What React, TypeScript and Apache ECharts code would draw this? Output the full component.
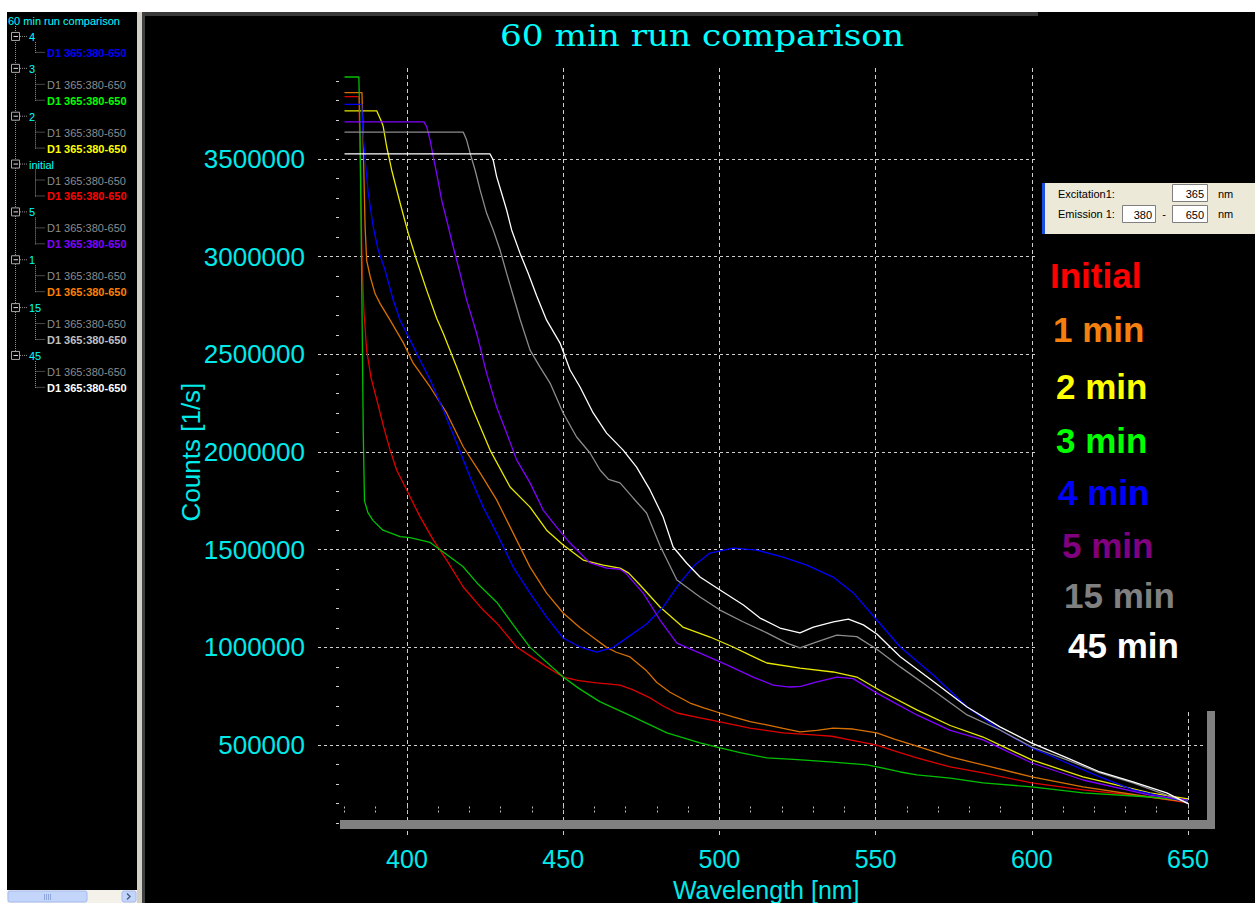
import React, { useEffect, useRef } from 'react';
import * as echarts from 'echarts';

const W = 1255;
const H = 903;
const FONT = '"Liberation Sans", Arial, sans-serif';
const CYAN = '#00eaea';

// ---------- data (wavelength in nm, counts in 1/s) ----------
const wlInitial = [380, 384.6, 385.1, 385.6, 386.2, 387.1, 388.5, 390.3, 392.5, 394.6, 396.7, 400.4, 404.2, 408.4, 412.7, 418, 424.4, 428.7, 435.1, 440, 444.7, 450, 455, 460.7, 465, 468.2, 472.4, 477.8, 482, 486.4, 493.8, 500.2, 509.8, 520.4, 531.2, 536, 541.8, 550.4, 556, 563.2, 573.9, 584.4, 600, 616.4, 637.8, 650];
const cInitial = [3820000, 3820000, 3450000, 3000000, 2720000, 2520000, 2380000, 2270000, 2130000, 2010000, 1908000, 1790000, 1668000, 1550000, 1447000, 1309000, 1191000, 1125000, 1002000, 950000, 900000, 848000, 830000, 818000, 812000, 807000, 782000, 741000, 700000, 664000, 639000, 618000, 587000, 562000, 551000, 545000, 526000, 500000, 470000, 434000, 388000, 357000, 306000, 270000, 234000, 204000];

const wl1min = [380, 385.6, 386.1, 386.6, 387.1, 388.2, 389.8, 391.4, 394.6, 398.8, 402, 407.4, 412.7, 418, 423.4, 428.7, 434, 439.4, 444.7, 450, 455.4, 460.7, 463.9, 467, 471.4, 476.7, 480, 484.2, 490.6, 495, 500.2, 504.4, 509.8, 515.2, 520.4, 525.8, 531.2, 536.4, 542.8, 550.4, 556, 563.2, 573.9, 584.4, 600, 616.4, 637.8, 650];
const c1min = [3840000, 3840000, 3500000, 3150000, 2980000, 2900000, 2810000, 2760000, 2675000, 2560000, 2455000, 2333000, 2200000, 2027000, 1893000, 1755000, 1585000, 1411000, 1278000, 1176000, 1100000, 1038000, 1000000, 975000, 951000, 880000, 820000, 770000, 715000, 690000, 664000, 644000, 620000, 603000, 585000, 567000, 575000, 587000, 582000, 562000, 530000, 495000, 439000, 398000, 337000, 286000, 234000, 208000];

const wl2min = [380, 390.3, 391.9, 392.4, 393.5, 395.1, 397.8, 400.4, 403.1, 406.3, 409.5, 411.6, 415.9, 421.2, 426.6, 433, 439.4, 444.7, 450, 456.4, 462.8, 468.2, 471, 474.6, 481, 488.3, 497, 504.4, 509.8, 515.2, 525.8, 536.4, 544, 552.4, 563.2, 573.9, 584.4, 600, 616.4, 637.8, 650];
const c2min = [3747000, 3747000, 3690000, 3666000, 3563000, 3444000, 3275000, 3120000, 2982000, 2829000, 2685000, 2608000, 2435000, 2215000, 2010000, 1821000, 1718000, 1600000, 1524000, 1447000, 1421000, 1406000, 1380000, 1319000, 1207000, 1104000, 1053000, 1002000, 960000, 920000, 894000, 874000, 848000, 770000, 680000, 600000, 541000, 424000, 337000, 255000, 224000];

const wl3min = [380, 384.6, 385.0, 385.5, 386.0, 386.4, 387.5, 389.1, 392.3, 397.8, 401, 407.4, 411.5, 417.9, 422.4, 428.8, 435.2, 439.4, 450, 455, 461.7, 472.4, 483.2, 493.8, 500.2, 507, 515.2, 525, 536.4, 547.3, 552.4, 557.9, 563.2, 573.9, 584.4, 600, 616.4, 637.8, 650];
const c3min = [3920000, 3920000, 3600000, 2900000, 2100000, 1750000, 1690000, 1650000, 1600000, 1567000, 1562000, 1537000, 1490000, 1414000, 1330000, 1230000, 1090000, 1000000, 848000, 790000, 722000, 644000, 562000, 511000, 485000, 460000, 434000, 425000, 413000, 398000, 382000, 362000, 347000, 331000, 306000, 286000, 255000, 234000, 218000];

const wl4min = [380, 385.5, 386, 386.6, 387.6, 389.2, 390.8, 393, 395.6, 397.8, 401, 404.2, 407.4, 411.6, 415.9, 420.2, 424.4, 428.7, 434, 439.4, 444.7, 450, 455.4, 460.7, 466, 471.4, 476.7, 482, 487.4, 492, 497, 504.4, 512, 520.4, 528, 536.4, 542.8, 550.4, 557.9, 568.4, 579.3, 589.8, 600, 611.3, 621.8, 632.4, 650];
const c4min = [3780000, 3780000, 3614000, 3495000, 3325000, 3152000, 3034000, 2930000, 2778000, 2675000, 2573000, 2470000, 2370000, 2215000, 2046000, 1872000, 1718000, 1585000, 1411000, 1278000, 1155000, 1048000, 1002000, 976000, 1000000, 1060000, 1120000, 1207000, 1330000, 1420000, 1483000, 1508000, 1498000, 1462000, 1421000, 1360000, 1280000, 1140000, 1002000, 860000, 695000, 577000, 485000, 408000, 337000, 270000, 208000];

const wl5min = [380, 405.4, 406.3, 407.4, 408.4, 409.5, 411.1, 412.7, 414.8, 417, 419.1, 422.3, 425.5, 428.7, 431.9, 435.1, 439.4, 443.6, 447.9, 452.2, 458.6, 463.9, 468.2, 470, 475.6, 481, 486.4, 493.8, 502.4, 510.8, 517.2, 522.6, 526, 531.2, 537.6, 542.8, 550.4, 563.2, 573.9, 584.4, 600, 616.4, 637.8, 650];
const c5min = [3690000, 3690000, 3666000, 3597000, 3512000, 3427000, 3290000, 3188000, 3051000, 2915000, 2778000, 2608000, 2403000, 2230000, 2097000, 1960000, 1842000, 1703000, 1616000, 1534000, 1432000, 1406000, 1400000, 1380000, 1278000, 1140000, 1022000, 971000, 910000, 848000, 807000, 797000, 800000, 823000, 848000, 840000, 766000, 654000, 575000, 526000, 408000, 321000, 244000, 218000];

const wl15min = [380, 418, 419.1, 420.2, 421.8, 423.4, 425.5, 427.6, 429.8, 431.9, 434, 436.2, 439.4, 442.6, 445.8, 450, 454.3, 458.6, 461.8, 464.5, 468.2, 472.4, 476.7, 481, 486.4, 493.8, 500.2, 507.7, 515.2, 521.6, 525.8, 531.2, 537.6, 544, 550.4, 557.9, 568.4, 579.3, 589.8, 600, 611.3, 621.8, 632.4, 650];
const c15min = [3638000, 3638000, 3597000, 3530000, 3444000, 3342000, 3222000, 3137000, 3034000, 2915000, 2800000, 2680000, 2522000, 2435000, 2353000, 2200000, 2077000, 1995000, 1908000, 1860000, 1842000, 1765000, 1688000, 1520000, 1345000, 1258000, 1191000, 1130000, 1074000, 1022000, 997000, 1028000, 1063000, 1055000, 990000, 900000, 780000, 654000, 577000, 490000, 424000, 357000, 306000, 204000];

const wl45min = [380, 426.6, 427.6, 428.7, 430.3, 431.9, 433.5, 436.2, 438.8, 441.5, 444.7, 449, 452.2, 455.4, 459.6, 463.9, 469.2, 473.5, 477.8, 482, 485.2, 489.5, 493.8, 500.2, 507.7, 513, 519.4, 525.8, 530.1, 536.5, 541.3, 546.1, 550.4, 557.9, 568.5, 579.3, 589.8, 600, 611.3, 621.8, 632.4, 643.2, 650];
const c45min = [3526000, 3526000, 3495000, 3410000, 3325000, 3239000, 3137000, 3017000, 2915000, 2800000, 2675000, 2558000, 2420000, 2333000, 2200000, 2097000, 2010000, 1923000, 1806000, 1667000, 1514000, 1432000, 1360000, 1294000, 1217000, 1150000, 1099000, 1074000, 1104000, 1130000, 1145000, 1115000, 1068000, 952000, 825000, 695000, 593000, 510000, 434000, 362000, 311000, 255000, 200000];

const seriesNames = ['Initial', '1 min', '2 min', '3 min', '4 min', '5 min', '15 min', '45 min'];
const seriesWl = [wlInitial, wl1min, wl2min, wl3min, wl4min, wl5min, wl15min, wl45min];
const seriesCounts = [cInitial, c1min, c2min, c3min, c4min, c5min, c15min, c45min];
const lineColors = ['#e00000', '#d87000', '#e8e800', '#00c000', '#0000ff', '#8000ff', '#8c8c8c', '#ffffff'];
const legendColors = ['#ff0000', '#f58010', '#ffff00', '#00ff00', '#0000ff', '#800080', '#808080', '#ffffff'];

// axis settings
const xMin = 380;
const xMax = 650;
const yMax = 4000000;
const yStep = 500000;

// tree panel (sample list)
const treeTitle = '60 min run comparison';
const treeGroups = ['4', '3', '2', 'initial', '5', '1', '15', '45'];
const treeChildColors = [
  ['#0000ff'],
  ['#00ff00'],
  ['#ffff00'],
  ['#ff0000'],
  ['#8000ff'],
  ['#ff8000'],
  ['#c0c0c0'],
  ['#ffffff'],
];
const treeChildText = 'D1 365:380-650';

function buildGraphics() {
  const els: any[] = [];
  // page chrome
  els.push({ type: 'rect', z: 10, shape: { x: 0, y: 0, width: W, height: 12 }, style: { fill: '#ffffff' } });
  els.push({ type: 'rect', z: 10, shape: { x: 0, y: 0, width: 7, height: H }, style: { fill: '#ffffff' } });
  els.push({ type: 'rect', z: 10, shape: { x: 137, y: 12, width: 5, height: H - 12 }, style: { fill: '#d4d0c8' } });
  els.push({ type: 'rect', z: 10, shape: { x: 142, y: 12, width: 3, height: H - 12 }, style: { fill: '#404040' } });
  els.push({ type: 'rect', z: 10, shape: { x: 145, y: 12, width: 893, height: 4 }, style: { fill: '#3a3a3a' } });
  // cover of the legend area
  els.push({ type: 'rect', z: 1, shape: { x: 1038, y: 16, width: W - 1038, height: 696 }, style: { fill: '#000000' } });

  // scrollbar
  els.push({ type: 'rect', z: 10, shape: { x: 7, y: 890, width: 130, height: 13 }, style: { fill: '#f3f1ea' } });
  els.push({ type: 'rect', z: 11, shape: { x: 8, y: 891, width: 79, height: 11, r: 2 }, style: { fill: '#c4d5fc', stroke: '#a4bbee', lineWidth: 1 } });
  for (let i = 0; i < 4; i++) {
    els.push({ type: 'line', z: 12, shape: { x1: 44 + i * 2 + 0.5, y1: 894, x2: 44 + i * 2 + 0.5, y2: 900 }, style: { stroke: '#8ea6da', lineWidth: 1 } });
  }
  els.push({ type: 'rect', z: 11, shape: { x: 122, y: 891, width: 14, height: 11, r: 2 }, style: { fill: '#c4d5fc', stroke: '#a4bbee', lineWidth: 1 } });
  els.push({ type: 'polyline', z: 12, shape: { points: [[127, 893.5], [130, 896.5], [127, 899.5]] }, style: { stroke: '#4d6185', lineWidth: 1.5, fill: 'none' } });

  // tree
  const rowY = (i: number) => 21 + i * 15.95;
  els.push({ type: 'text', z: 10, x: 8, y: rowY(0), style: { text: treeTitle, fill: '#00ffff', fontSize: 11, fontFamily: FONT, align: 'left', verticalAlign: 'middle' } });
  let row = 1;
  let lastGroupY = 0;
  treeGroups.forEach((g, gi) => {
    const gy = rowY(row);
    lastGroupY = gy;
    els.push({ type: 'rect', z: 11, shape: { x: 11.5, y: gy - 4.5, width: 8, height: 8 }, style: { fill: '#000', stroke: '#a8a8a8', lineWidth: 1 } });
    els.push({ type: 'line', z: 12, shape: { x1: 13.5, y1: gy - 0.5, x2: 18, y2: gy - 0.5 }, style: { stroke: '#e0e0e0', lineWidth: 1 } });
    els.push({ type: 'line', z: 10, shape: { x1: 20, y1: gy - 0.5, x2: 27, y2: gy - 0.5 }, style: { stroke: '#909090', lineWidth: 1, lineDash: [1, 1] } });
    els.push({ type: 'text', z: 10, x: 29, y: gy, style: { text: g, fill: '#00ffff', fontSize: 11, fontFamily: FONT, align: 'left', verticalAlign: 'middle' } });
    const children: { color: string; bold: boolean }[] = [];
    if (gi > 0) children.push({ color: '#8c8c8c', bold: false });
    treeChildColors[gi].forEach((c) => children.push({ color: c, bold: true }));
    row++;
    let lastChildY = gy;
    children.forEach((ch) => {
      const cy = rowY(row);
      lastChildY = cy;
      els.push({ type: 'line', z: 10, shape: { x1: 35.5, y1: cy - 0.5, x2: 45, y2: cy - 0.5 }, style: { stroke: '#909090', lineWidth: 1, lineDash: [1, 1] } });
      els.push({ type: 'text', z: 10, x: 47, y: cy, style: { text: treeChildText, fill: ch.color, fontSize: 11, fontWeight: ch.bold ? 'bold' : 'normal', fontFamily: FONT, align: 'left', verticalAlign: 'middle' } });
      row++;
    });
    els.push({ type: 'line', z: 10, shape: { x1: 35.5, y1: gy + 5, x2: 35.5, y2: lastChildY }, style: { stroke: '#909090', lineWidth: 1, lineDash: [1, 1] } });
  });
  els.push({ type: 'line', z: 10, shape: { x1: 15.5, y1: 26, x2: 15.5, y2: lastGroupY - 5 }, style: { stroke: '#909090', lineWidth: 1, lineDash: [1, 1] } });

  // title
  els.push({ type: 'text', z: 10, x: 702, y: 36, scaleX: 1.18, style: { text: '60 min run comparison', fill: '#00ffff', fontSize: 29, fontFamily: '"DejaVu Serif", "Liberation Serif", serif', align: 'center', verticalAlign: 'middle' } });

  // 3D floor / wall bars
  els.push({ type: 'rect', z: 10, shape: { x: 340, y: 820, width: 875, height: 9 }, style: { fill: '#808080' } });
  els.push({ type: 'rect', z: 10, shape: { x: 1207, y: 711, width: 8, height: 118 }, style: { fill: '#808080' } });

  // excitation / emission box
  els.push({ type: 'rect', z: 10, shape: { x: 1042, y: 183, width: W - 1042, height: 51 }, style: { fill: '#ece9d8' } });
  els.push({ type: 'rect', z: 11, shape: { x: 1042, y: 183, width: 3, height: 51 }, style: { fill: '#1a4fe0' } });
  const small = { fontSize: 11, fontFamily: FONT, fill: '#000000', verticalAlign: 'middle' };
  els.push({ type: 'text', z: 12, x: 1058, y: 194, style: { ...small, text: 'Excitation1:', align: 'left' } });
  els.push({ type: 'text', z: 12, x: 1058, y: 214, style: { ...small, text: 'Emission 1:', align: 'left' } });
  const boxes = [
    { x: 1172, y: 184, w: 35, t: '365' },
    { x: 1122, y: 205, w: 33, t: '380' },
    { x: 1172, y: 205, w: 35, t: '650' },
  ];
  boxes.forEach((b) => {
    els.push({ type: 'rect', z: 11, shape: { x: b.x + 0.5, y: b.y + 0.5, width: b.w, height: 17 }, style: { fill: '#ffffff', stroke: '#7f7f7f', lineWidth: 1 } });
    els.push({ type: 'text', z: 12, x: b.x + b.w - 3, y: b.y + 9.5, style: { ...small, text: b.t, align: 'right' } });
  });
  els.push({ type: 'text', z: 12, x: 1164, y: 214, style: { ...small, text: '-', align: 'center' } });
  els.push({ type: 'text', z: 12, x: 1218, y: 194, style: { ...small, text: 'nm', align: 'left' } });
  els.push({ type: 'text', z: 12, x: 1218, y: 214, style: { ...small, text: 'nm', align: 'left' } });

  // legend texts
  const legendX = [1050, 1053, 1056, 1056, 1058, 1062, 1064, 1068];
  const legendY = [275, 329, 386, 440, 492, 545, 595, 645];
  seriesNames.forEach((n, i) => {
    els.push({ type: 'text', z: 12, x: legendX[i], y: legendY[i], style: { text: n, fill: legendColors[i], fontSize: 35, fontWeight: 'bold', fontFamily: FONT, align: 'left', verticalAlign: 'middle' } });
  });
  return els;
}

function buildOption(): any {
  const pxPerM = 195.33;
  const yZero = 842.7;
  const yTop = yZero - (yMax / 1e6) * pxPerM;
  const pxPerNm = 3.124;
  const x380 = 344.5;
  const x650 = x380 + (xMax - xMin) * pxPerNm;
  const x350 = x380 - 30 * pxPerNm;
  const hidden = { show: false };

  const series = seriesNames.map((name, i) => ({
    name,
    type: 'line',
    xAxisIndex: 0,
    yAxisIndex: 0,
    showSymbol: false,
    symbol: 'none',
    data: seriesWl[i].slice(0, Math.min(seriesWl[i].length, seriesCounts[i].length)).map((w, k) => [w, seriesCounts[i][k]]),
    lineStyle: { color: lineColors[i], width: 1.3 },
    itemStyle: { color: lineColors[i] },
    z: 2,
  }));

  return {
    animation: false,
    backgroundColor: '#000000',
    grid: [
      { left: x380, top: yTop, width: x650 - x380, height: yZero - yTop },
      { left: 318, top: yTop, width: 1205 - 318, height: yZero - yTop },
      { left: x350, top: 68, width: x650 - x350, height: 837 - 68 },
      { left: x380, top: 700, width: x650 - x380, height: 113 },
      { left: 336, top: yZero - 3.9 * pxPerM, width: 100, height: 3.8 * pxPerM },
    ],
    xAxis: [
      { gridIndex: 0, type: 'value', min: xMin, max: xMax, ...hidden },
      { gridIndex: 1, type: 'value', min: 0, max: 1, ...hidden },
      {
        gridIndex: 2, type: 'value', min: 350, max: xMax, interval: 50,
        axisLine: { show: false }, axisTick: { show: false },
        axisLabel: { show: true, color: CYAN, fontSize: 25, lineHeight: 20, fontFamily: FONT, margin: 12, showMinLabel: false, formatter: (v: number) => String(v) },
        splitLine: { show: true, showMinLine: false, showMaxLine: true, lineStyle: { color: '#cfcfcf', width: 1, type: [4, 3] } },
      },
      {
        gridIndex: 3, type: 'value', min: xMin, max: xMax, interval: 10,
        axisLine: { show: false },
        axisTick: { show: true, inside: true, length: 8, lineStyle: { color: '#bdbdbd', width: 1, type: [2, 2] } },
        axisLabel: { show: false }, splitLine: { show: false },
        name: 'Wavelength [nm]', nameLocation: 'middle', nameGap: 66, nameMoveOverlap: false,
        nameTextStyle: { color: CYAN, fontSize: 25, lineHeight: 22, fontFamily: FONT },
      },
      { gridIndex: 4, type: 'value', min: 0, max: 1, ...hidden },
    ],
    yAxis: [
      { gridIndex: 0, type: 'value', min: 0, max: yMax, ...hidden },
      {
        gridIndex: 1, type: 'value', min: 0, max: yMax, interval: yStep,
        axisLine: { show: false }, axisTick: { show: false },
        axisLabel: { show: true, color: CYAN, fontSize: 26, fontFamily: FONT, margin: 13, showMinLabel: false, showMaxLabel: false, formatter: (v: number) => String(v) },
        splitLine: { show: true, showMinLine: false, showMaxLine: false, lineStyle: { color: '#cfcfcf', width: 1, type: [3, 3] } },
        name: 'Counts [1/s]', nameLocation: 'middle', nameGap: 114, nameRotate: 90, nameMoveOverlap: false,
        nameTextStyle: { color: CYAN, fontSize: 26, fontFamily: FONT },
      },
      { gridIndex: 2, type: 'value', min: 0, max: 1, ...hidden },
      { gridIndex: 3, type: 'value', min: 0, max: 1, ...hidden },
      {
        gridIndex: 4, type: 'value', min: 100000, max: 3900000, interval: 100000,
        axisLine: { show: false },
        axisTick: { show: true, inside: true, length: 3, lineStyle: { color: '#d0d0d0', width: 1 } },
        axisLabel: { show: false }, splitLine: { show: false },
      },
    ],
    series,
    graphic: { elements: buildGraphics() },
  };
}

export default function App() {
  const ref = useRef<HTMLDivElement>(null);
  useEffect(() => {
    document.body.style.margin = '0';
    const chart = echarts.init(ref.current as HTMLDivElement, null, { renderer: 'svg', width: W, height: H });
    chart.setOption(buildOption());
    return () => chart.dispose();
  }, []);
  return <div ref={ref} style={{ width: W, height: H }} />;
}
